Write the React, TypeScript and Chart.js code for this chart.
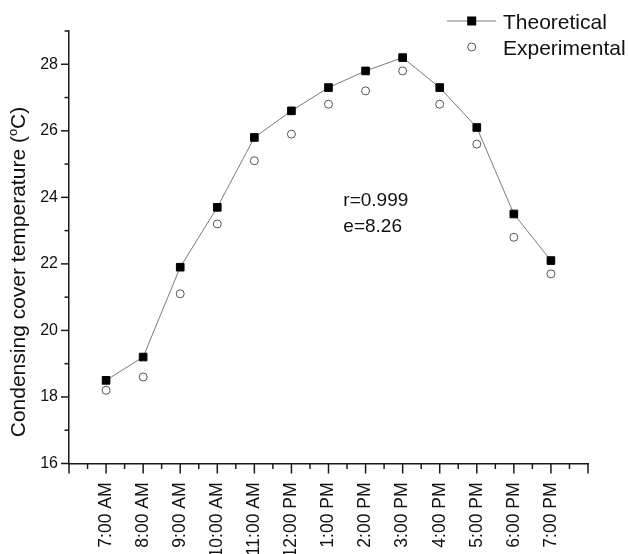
import React, { useEffect, useRef } from 'react';
import { Chart, registerables } from 'chart.js';

Chart.register(...registerables);

// ---- data ----
const timeLabels = [
  '7:00 AM', '8:00 AM', '9:00 AM', '10:00 AM', '11:00 AM', '12:00 PM',
  '1:00 PM', '2:00 PM', '3:00 PM', '4:00 PM', '5:00 PM', '6:00 PM', '7:00 PM',
];
const theoretical = [18.5, 19.2, 21.9, 23.7, 25.8, 26.6, 27.3, 27.8, 28.2, 27.3, 26.1, 23.5, 22.1];
const experimental = [18.2, 18.6, 21.1, 23.2, 25.1, 25.9, 26.8, 27.2, 27.8, 26.8, 25.6, 22.8, 21.7];
const seriesNames = ['Theoretical', 'Experimental'];
const annotationLines = ['r=0.999', 'e=8.26'];
const yTitleMain = 'Condensing cover temperature (';
const yTitleSup = 'o';
const yTitleEnd = 'C)';
const yMin = 16;
const yMax = 29;
const xMin = -1;
const xMax = 13;

const FONT = '"Liberation Sans", Arial, Helvetica, sans-serif';
const W = 628;
const H = 554;
const AXIS = '#1a1a1a';

const decorations = {
  id: 'decorations',
  afterDraw(chart: any) {
    const ctx = chart.ctx as CanvasRenderingContext2D;
    const xs = chart.scales.x;
    const ys = chart.scales.y;
    const area = chart.chartArea;
    ctx.save();

    // tick marks (major / minor)
    ctx.strokeStyle = AXIS;
    ctx.lineWidth = 1.5;
    ys.ticks.forEach((t: any) => {
      const py = ys.getPixelForValue(t.value);
      const major = Math.abs(t.value % 2) < 1e-6;
      const len = major ? 8 : 4.5;
      ctx.beginPath();
      ctx.moveTo(area.left - len, py);
      ctx.lineTo(area.left, py);
      ctx.stroke();
    });
    xs.ticks.forEach((t: any) => {
      const px = xs.getPixelForValue(t.value);
      const major = Math.abs(t.value - Math.round(t.value)) < 1e-6;
      const len = major ? 10 : 5.5;
      ctx.beginPath();
      ctx.moveTo(px, area.bottom);
      ctx.lineTo(px, area.bottom + len);
      ctx.stroke();
    });

    // y title with superscript
    ctx.fillStyle = '#111';
    const big = `21px ${FONT}`;
    const small = `13px ${FONT}`;
    ctx.font = big;
    const w1 = ctx.measureText(yTitleMain).width;
    const w3 = ctx.measureText(yTitleEnd).width;
    ctx.font = small;
    const w2 = ctx.measureText(yTitleSup).width;
    const total = w1 + w2 + w3;
    ctx.translate(25, 272);
    ctx.rotate(-Math.PI / 2);
    ctx.textBaseline = 'alphabetic';
    ctx.textAlign = 'left';
    let cx = -total / 2;
    ctx.font = big;
    ctx.fillText(yTitleMain, cx, 0);
    cx += w1;
    ctx.font = small;
    ctx.fillText(yTitleSup, cx, -8);
    cx += w2;
    ctx.font = big;
    ctx.fillText(yTitleEnd, cx, 0);
    ctx.setTransform(1, 0, 0, 1, 0, 0);

    // annotation text
    ctx.font = `19px ${FONT}`;
    ctx.fillStyle = '#111';
    ctx.textAlign = 'left';
    ctx.textBaseline = 'alphabetic';
    const ax = xs.getPixelForValue(6.4);
    ctx.fillText(annotationLines[0], ax, ys.getPixelForValue(23.75));
    ctx.fillText(annotationLines[1], ax, ys.getPixelForValue(22.97));

    // legend
    const lx = 471.7;
    ctx.strokeStyle = '#7a7a7a';
    ctx.lineWidth = 1;
    ctx.beginPath();
    ctx.moveTo(447, 21);
    ctx.lineTo(496, 21);
    ctx.stroke();
    ctx.fillStyle = '#000';
    ctx.fillRect(lx - 4.5, 21 - 4.5, 9, 9);
    ctx.strokeStyle = '#555';
    ctx.lineWidth = 1;
    ctx.beginPath();
    ctx.arc(lx, 47, 4, 0, Math.PI * 2);
    ctx.stroke();
    ctx.fillStyle = '#111';
    ctx.font = `21px ${FONT}`;
    ctx.fillText(seriesNames[0], 503, 28.5);
    ctx.fillText(seriesNames[1], 503, 54.5);

    ctx.restore();
  },
};

export default function App() {
  const ref = useRef<HTMLCanvasElement | null>(null);

  useEffect(() => {
    document.body.style.margin = '0';
    document.body.style.overflow = 'hidden';
    const canvas = ref.current;
    if (!canvas) return;
    const chart = new Chart(canvas, {
      type: 'line',
      data: {
        datasets: [
          {
            label: seriesNames[0],
            data: theoretical.map((v, i) => ({ x: i, y: v })),
            borderColor: '#7a7a7a',
            borderWidth: 1,
            pointStyle: 'rect',
            pointRadius: 5.4,
            pointBackgroundColor: '#000',
            pointBorderColor: '#000',
            pointBorderWidth: 1,
            showLine: true,
          },
          {
            label: seriesNames[1],
            data: experimental.map((v, i) => ({ x: i, y: v })),
            showLine: false,
            pointStyle: 'circle',
            pointRadius: 4,
            pointBackgroundColor: '#fff',
            pointBorderColor: '#555',
            pointBorderWidth: 1,
          },
        ],
      },
      options: {
        animation: false,
        responsive: false,
        devicePixelRatio: 1,
        layout: { padding: { left: 0, right: 27, top: 31, bottom: 0 } },
        plugins: {
          legend: { display: false },
          tooltip: { enabled: false },
          title: { display: false },
        },
        scales: {
          x: {
            type: 'linear',
            min: xMin,
            max: xMax,
            afterFit(scale: any) {
              scale.height = H - 463.5;
            },
            grid: { display: true, drawOnChartArea: false, drawTicks: false },
            border: { display: true, color: AXIS, width: 1.5 },
            ticks: {
              stepSize: 0.5,
              maxTicksLimit: 100,
              autoSkip: false,
              minRotation: 90,
              maxRotation: 90,
              padding: 19,
              color: '#111',
              font: { family: FONT, size: 17.5 },
              callback: (value: any) => {
                const v = Number(value);
                if (Math.abs(v - Math.round(v)) > 1e-6) return '';
                const i = Math.round(v);
                return i >= 0 && i < timeLabels.length ? timeLabels[i] : '';
              },
            },
          },
          y: {
            type: 'linear',
            min: yMin,
            max: yMax,
            afterFit(scale: any) {
              scale.width = 69;
            },
            grid: { display: true, drawOnChartArea: false, drawTicks: false },
            border: { display: true, color: AXIS, width: 1.5 },
            ticks: {
              stepSize: 1,
              maxTicksLimit: 100,
              autoSkip: false,
              padding: 11,
              color: '#111',
              font: { family: FONT, size: 16 },
              callback: (value: any) => {
                const v = Number(value);
                return Math.abs(v % 2) < 1e-6 ? String(v) : '';
              },
            },
          },
        },
      },
      plugins: [decorations],
    } as any);
    return () => chart.destroy();
  }, []);

  return (
    <div style={{ width: W, height: H }}>
      <canvas ref={ref} width={W} height={H} style={{ display: 'block', width: W, height: H }} />
    </div>
  );
}
